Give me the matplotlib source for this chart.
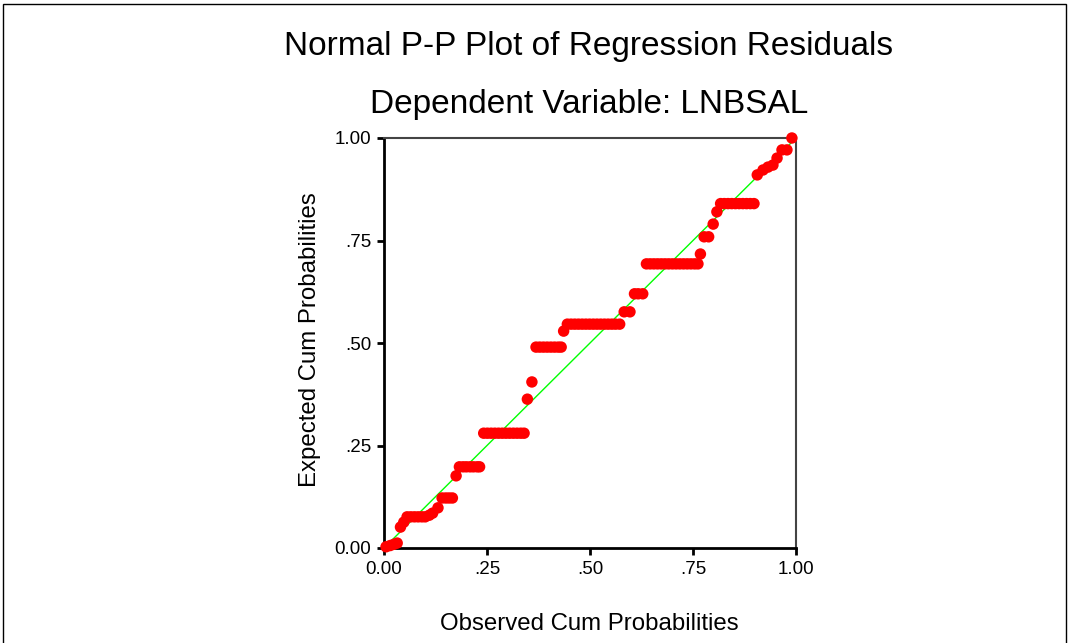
import matplotlib
matplotlib.use('Agg')
import matplotlib.pyplot as plt
from matplotlib.patches import Rectangle

plt.rcParams['font.family'] = ['Liberation Sans', 'DejaVu Sans']

# observed / expected cumulative probabilities
observed = [0.005, 0.015, 0.024, 0.032, 0.040, 0.048,
            0.056, 0.065, 0.074, 0.083, 0.092, 0.100,
            0.110, 0.118, 0.131,
            0.141, 0.150, 0.158, 0.166, 0.175,
            0.183, 0.192, 0.200, 0.209, 0.217, 0.226, 0.232,
            0.242, 0.251, 0.260, 0.269, 0.278, 0.287, 0.296, 0.305, 0.314, 0.323, 0.332, 0.340,
            0.348, 0.359,
            0.369, 0.378, 0.387, 0.396, 0.405, 0.414, 0.423, 0.430,
            0.436,
            0.445, 0.454, 0.463, 0.472, 0.481, 0.490, 0.499, 0.508, 0.517, 0.526, 0.535,
            0.544, 0.553, 0.562, 0.572,
            0.583, 0.597,
            0.608, 0.617, 0.628,
            0.637, 0.646, 0.655, 0.664, 0.673, 0.682, 0.691, 0.700, 0.709, 0.718, 0.727,
            0.736, 0.745, 0.754, 0.762,
            0.768, 0.777, 0.788, 0.799, 0.808,
            0.817, 0.826, 0.835, 0.844, 0.853, 0.862, 0.871, 0.880, 0.889, 0.898,
            0.906, 0.920, 0.932, 0.944, 0.954, 0.966, 0.978, 0.990]
expected = [0.003, 0.006, 0.009, 0.012, 0.051, 0.063,
            0.076, 0.076, 0.076, 0.076, 0.076, 0.076,
            0.080, 0.085, 0.098,
            0.122, 0.122, 0.122, 0.122, 0.176,
            0.198, 0.198, 0.198, 0.198, 0.198, 0.198, 0.198,
            0.280, 0.280, 0.280, 0.280, 0.280, 0.280, 0.280, 0.280, 0.280, 0.280, 0.280, 0.280,
            0.363, 0.405,
            0.490, 0.490, 0.490, 0.490, 0.490, 0.490, 0.490, 0.490,
            0.529,
            0.546, 0.546, 0.546, 0.546, 0.546, 0.546, 0.546, 0.546, 0.546, 0.546, 0.546,
            0.546, 0.546, 0.546, 0.546,
            0.576, 0.576,
            0.620, 0.620, 0.620,
            0.693, 0.693, 0.693, 0.693, 0.693, 0.693, 0.693, 0.693, 0.693, 0.693, 0.693,
            0.693, 0.693, 0.693, 0.693,
            0.717, 0.759, 0.759, 0.790, 0.820,
            0.840, 0.840, 0.840, 0.840, 0.840, 0.840, 0.840, 0.840, 0.840, 0.840,
            0.910, 0.922, 0.929, 0.934, 0.951, 0.971, 0.971, 1.000]

ticks = [0.0, 0.25, 0.5, 0.75, 1.0]
tick_labels = ['0.00', '.25', '.50', '.75', '1.00']

fig = plt.figure(figsize=(10.7, 6.43), dpi=100)
fig.patches.append(Rectangle((3 / 1070, -0.05), 1063 / 1070, 1.05 - 4 / 643,
                             transform=fig.transFigure, fill=False,
                             edgecolor='black', linewidth=1))

ax = fig.add_axes([384 / 1070, 95 / 643, 412 / 1070, 410 / 643])
ax.plot([0, 1], [0, 1], color='#00ff00', linewidth=1, zorder=2)
ax.scatter(observed, expected, s=68, color='#ff0000', edgecolors='none',
           zorder=3, clip_on=False)

ax.set_xlim(0, 1)
ax.set_ylim(0, 1)
ax.set_xticks(ticks)
ax.set_xticklabels(tick_labels)
ax.set_yticks(ticks)
ax.set_yticklabels(tick_labels)
ax.tick_params(direction='out', length=5, width=2, labelsize=13.5, pad=4)

for side in ['left', 'bottom']:
    ax.spines[side].set_linewidth(2)
for side in ['top', 'right']:
    ax.spines[side].set_linewidth(1.5)
    ax.spines[side].set_color('#444444')

# titles are centred over the plot area, not the page
cx = 589 / 1070
fig.text(cx, 1 - 47 / 643, 'Normal P-P Plot of Regression Residuals',
         ha='center', va='center', fontsize=24)
fig.text(cx, 1 - 104 / 643, 'Dependent Variable: LNBSAL',
         ha='center', va='center', fontsize=24)
fig.text(cx, 1 - 624 / 643, 'Observed Cum Probabilities',
         ha='center', va='center', fontsize=17.3)
fig.text(310 / 1070, 1 - 340 / 643, 'Expected Cum Probabilities',
         ha='center', va='center', rotation=90, fontsize=17.3)

fig.savefig('out.png', dpi=100)
